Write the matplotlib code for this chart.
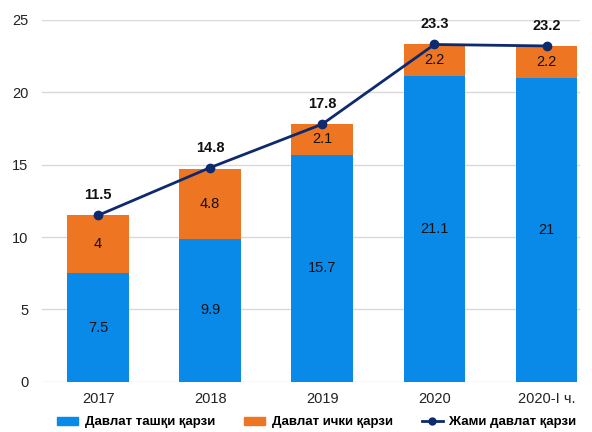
#!/usr/bin/env python3

import numpy as np
import matplotlib
matplotlib.use('Agg')
import matplotlib.pyplot as plt
from matplotlib.lines import Line2D
from matplotlib.patches import Patch

years = ['2017', '2018', '2019', '2020', '2020-I ч.']
external = [7.5, 9.9, 15.7, 21.1, 21]
internal = [4, 4.8, 2.1, 2.2, 2.2]
total = [11.5, 14.8, 17.8, 23.3, 23.2]

blue = '#0a8ae8'
orange = '#ee7623'
navy = '#0e2a6e'

plt.rcParams['font.family'] = ['Liberation Sans', 'DejaVu Sans']


def main():
    fig = plt.figure(figsize=(5.92, 4.32), dpi=100)
    ax = fig.add_axes([0.071, 0.116, 0.909, 0.838])
    x = np.arange(len(years))
    w = 0.55

    ax.bar(x, external, w, color=blue, zorder=2)
    ax.bar(x, internal, w, bottom=external, color=orange, zorder=2)
    ax.plot(x, total, color=navy, lw=2, marker='o', ms=6, zorder=3)

    for i in range(len(years)):
        ax.text(x[i], external[i] / 2, f'{external[i]:g}', ha='center',
                va='center', fontsize=10.5, color='#111111', zorder=4)
        ax.text(x[i], external[i] + internal[i] / 2, f'{internal[i]:g}',
                ha='center', va='center', fontsize=10.5, color='#111111',
                zorder=4)
        ax.text(x[i], total[i] + 0.9, f'{total[i]:g}', ha='center',
                va='bottom', fontsize=10.5, fontweight='bold', color='#111111',
                zorder=4)

    ax.set_xlim(-0.5, 4.3)
    ax.set_ylim(0, 25)
    ax.set_yticks(range(0, 26, 5))
    ax.set_xticks(x)
    ax.set_xticklabels(years)
    ax.grid(axis='y', color='#d9d9d9', lw=1, zorder=0)
    for s in ax.spines.values():
        s.set_visible(False)
    ax.tick_params(length=0, labelsize=10.5, colors='#222222')
    ax.tick_params(axis='x', pad=7)
    ax.tick_params(axis='y', pad=10)

    handles = [Patch(color=blue, label='Давлат ташқи қарзи'),
               Patch(color=orange, label='Давлат ички қарзи'),
               Line2D([], [], color=navy, lw=2, marker='o', ms=5,
                      label='Жами давлат қарзи')]
    fig.legend(handles=handles, loc='center', bbox_to_anchor=(0.535, 0.022),
               ncol=3, frameon=False, prop={'weight': 'bold', 'size': 9.5},
               handlelength=1.6, handleheight=0.6, columnspacing=2.2,
               handletextpad=0.5)

    fig.savefig('out.png', dpi=100)


if __name__ == '__main__':
    main()
